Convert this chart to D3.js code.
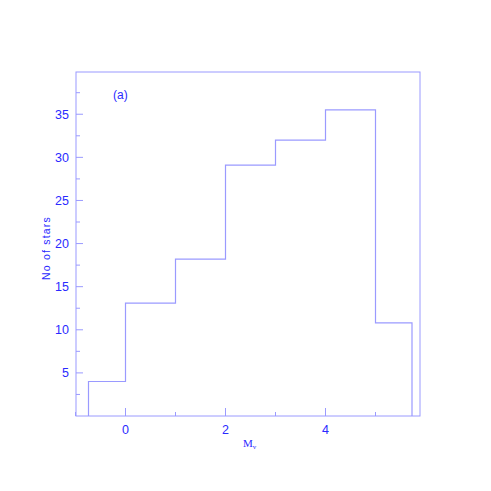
<!DOCTYPE html>
<html><head><meta charset="utf-8">
<script src="https://cdn.jsdelivr.net/npm/d3@7"></script>
<style>body{margin:0;background:#fff;}svg{display:block;}</style>
</head><body>
<script>
const binEdges = [-0.74, 0, 1, 2, 3, 4, 5, 5.73];
const counts = [4, 13.1, 18.2, 29.1, 32, 35.5, 10.8];
const xTicks = [0, 2, 4];
const xMinor = [-1, 1, 3, 5];
const yTicks = [5, 10, 15, 20, 25, 30, 35];
const yMinor = [2.5, 7.5, 12.5, 17.5, 22.5, 27.5, 32.5, 37.5];

const W = 491, H = 491;
const L = 76, R = 420, T = 72, B = 416;
const lineCol = "#9a9aff", textCol = "#2a2aff";

const svg = d3.select("body").append("svg").attr("width", W).attr("height", H);
const x = d3.scaleLinear().domain([-0.99, 5.89]).range([L, R]);
const y = d3.scaleLinear().domain([0, 39.9]).range([B, T]);

// frame
svg.append("rect").attr("x", L).attr("y", T).attr("width", R - L).attr("height", B - T)
  .attr("fill", "none").attr("stroke", lineCol).attr("stroke-width", 1);

// ticks
const g = svg.append("g").attr("stroke", lineCol).attr("stroke-width", 1);
g.selectAll(".ymaj").data(yTicks).join("line")
  .attr("x1", L).attr("x2", L + 7).attr("y1", d => y(d)).attr("y2", d => y(d));
g.selectAll(".ymin").data(yMinor).join("line")
  .attr("x1", L).attr("x2", L + 4).attr("y1", d => y(d)).attr("y2", d => y(d));
g.selectAll(".xmaj").data(xTicks).join("line")
  .attr("x1", d => x(d)).attr("x2", d => x(d)).attr("y1", B).attr("y2", B - 8);
g.selectAll(".xmin").data(xMinor).join("line")
  .attr("x1", d => x(d)).attr("x2", d => x(d)).attr("y1", B).attr("y2", B - 4);

// tick labels
svg.selectAll(".yl").data(yTicks).join("text")
  .attr("x", L - 7).attr("y", d => y(d)).attr("dy", "0.35em")
  .attr("text-anchor", "end").attr("font-family", "Liberation Sans, Arial, sans-serif")
  .attr("font-size", 12.5).attr("fill", textCol).text(d => d);
svg.selectAll(".xl").data(xTicks).join("text")
  .attr("x", d => x(d)).attr("y", 430).attr("dy", "0.35em")
  .attr("text-anchor", "middle").attr("font-family", "Liberation Sans, Arial, sans-serif")
  .attr("font-size", 12.5).attr("fill", textCol).text(d => d);

// histogram step outline
const pts = [];
pts.push([binEdges[0], 0]);
counts.forEach((c, i) => { pts.push([binEdges[i], c]); pts.push([binEdges[i + 1], c]); });
pts.push([binEdges[binEdges.length - 1], 0]);
svg.append("path").attr("d", d3.line().x(d => x(d[0])).y(d => y(d[1]))(pts))
  .attr("fill", "none").attr("stroke", lineCol).attr("stroke-width", 1.2);

// labels
svg.append("text").attr("x", 113).attr("y", 95).attr("dy", "0.35em")
  .attr("font-family", "Liberation Sans, Arial, sans-serif").attr("font-size", 12)
  .attr("fill", textCol).text("(a)");

svg.append("text").attr("transform", "translate(50,248) rotate(-90)")
  .attr("text-anchor", "middle").attr("font-family", "Liberation Sans, Arial, sans-serif")
  .attr("font-size", 10.5).attr("letter-spacing", "1.2px").attr("fill", textCol).text("No of stars");

const mv = svg.append("text").attr("x", 243).attr("y", 447)
  .attr("font-family", "Liberation Serif, Times New Roman, serif").attr("font-size", 11)
  .attr("fill", textCol);
mv.append("tspan").text("M");
mv.append("tspan").attr("font-size", 7).attr("dy", 2).text("v");
</script>
</body></html>
